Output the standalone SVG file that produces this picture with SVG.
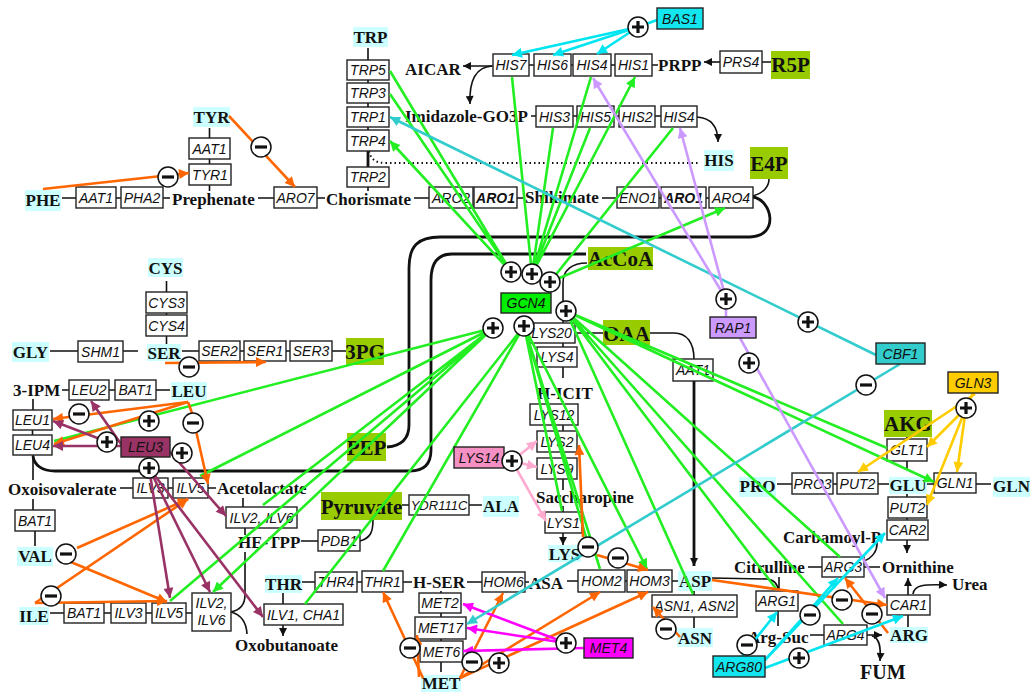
<svg xmlns="http://www.w3.org/2000/svg" width="1034" height="692" viewBox="0 0 1034 692">
<style>
.b rect{fill:#fff;stroke:#222;stroke-width:1.4}
.b text,.r text{font-family:"Liberation Sans",Arial,sans-serif;font-style:italic;font-size:14px;text-anchor:middle;fill:#111}
.r rect{stroke:#222;stroke-width:1.4}
.bold text{font-weight:bold}
.m{font-family:"Liberation Serif","Times New Roman",serif;font-weight:bold;font-size:17px;fill:#111}
.c{text-anchor:middle}
.aa{fill:#ccffff}
.pc{fill:#99cc00}
.big{font-size:21px}
.k{stroke:#111;stroke-width:1.6;fill:none}
.kt{stroke:#111;stroke-width:2.8;fill:none}
.ka{stroke:#111;stroke-width:1.6;fill:none;marker-end:url(#ak)}
.dot{stroke:#111;stroke-width:2;fill:none;stroke-dasharray:1.5 3}
.e{fill:none;stroke-width:2.6}
.eg{stroke:#22ee22;marker-end:url(#mg)}
.eo{stroke:#ff6600;marker-end:url(#mo)}
.ep{stroke:#993366;marker-end:url(#mp)}
.ek{stroke:#ffaad0;marker-end:url(#mk)}
.em{stroke:#ff00ff;marker-end:url(#mm)}
.et{stroke:#33cccc;marker-end:url(#mt)}
.el{stroke:#cc99ff;marker-end:url(#ml)}
.ec{stroke:#00e5f0;marker-end:url(#mc)}
.ey{stroke:#ffcc00;marker-end:url(#my)}
.n{marker-end:none}
.s circle{fill:#fff;stroke:#111;stroke-width:1.5}
.s path{stroke:#111;stroke-width:3.2;fill:none}
</style>
<defs>
<marker id="ak" viewBox="0 0 10 10" refX="10" refY="5" markerWidth="9" markerHeight="8" markerUnits="userSpaceOnUse" orient="auto"><path d="M0,0L10,5L0,10z" fill="#111"/></marker>
<marker id="mg" viewBox="0 0 10 10" refX="10" refY="5" markerWidth="13" markerHeight="10" markerUnits="userSpaceOnUse" orient="auto"><path d="M0,0L10,5L0,10z" fill="#22ee22"/></marker>
<marker id="mo" viewBox="0 0 10 10" refX="10" refY="5" markerWidth="13" markerHeight="10" markerUnits="userSpaceOnUse" orient="auto"><path d="M0,0L10,5L0,10z" fill="#ff6600"/></marker>
<marker id="mp" viewBox="0 0 10 10" refX="10" refY="5" markerWidth="13" markerHeight="10" markerUnits="userSpaceOnUse" orient="auto"><path d="M0,0L10,5L0,10z" fill="#993366"/></marker>
<marker id="mk" viewBox="0 0 10 10" refX="10" refY="5" markerWidth="13" markerHeight="10" markerUnits="userSpaceOnUse" orient="auto"><path d="M0,0L10,5L0,10z" fill="#ffaad0"/></marker>
<marker id="mm" viewBox="0 0 10 10" refX="10" refY="5" markerWidth="13" markerHeight="10" markerUnits="userSpaceOnUse" orient="auto"><path d="M0,0L10,5L0,10z" fill="#ff00ff"/></marker>
<marker id="mt" viewBox="0 0 10 10" refX="10" refY="5" markerWidth="13" markerHeight="10" markerUnits="userSpaceOnUse" orient="auto"><path d="M0,0L10,5L0,10z" fill="#33cccc"/></marker>
<marker id="ml" viewBox="0 0 10 10" refX="10" refY="5" markerWidth="13" markerHeight="10" markerUnits="userSpaceOnUse" orient="auto"><path d="M0,0L10,5L0,10z" fill="#cc99ff"/></marker>
<marker id="mc" viewBox="0 0 10 10" refX="10" refY="5" markerWidth="13" markerHeight="10" markerUnits="userSpaceOnUse" orient="auto"><path d="M0,0L10,5L0,10z" fill="#00e5f0"/></marker>
<marker id="my" viewBox="0 0 10 10" refX="10" refY="5" markerWidth="13" markerHeight="10" markerUnits="userSpaceOnUse" orient="auto"><path d="M0,0L10,5L0,10z" fill="#ffcc00"/></marker>
<g id="plus" class="s"><circle r="10"/><path d="M-6,0H6M0,-6V6"/></g>
<g id="minus" class="s"><circle r="10"/><path d="M-6,0H6"/></g>
</defs>

<g id="connectors-pathway">
<path class="kt" d="M753,197 C772,200 780,236 750,237 L440,237 C418,237 409,246 409,268 L409,425 C409,440 400,446 387,447"/>
<path class="k" d="M753,196 C764,193 769,186 769,179"/>
<path class="kt" d="M586,254 L452,254 C438,254 431,262 431,280 L431,450 C431,464 424,471 410,471 L55,471 C42,471 34,465 33,456"/>
<path class="dot" d="M369,151 C371,160 376,163 386,163 L700,163"/>
<path class="k" d="M209.5,159V164M209.5,185V191M116,198H121M163,198H170M317,198H325M517,198H524M659,198H661M706,198H709"/>
<path class="k" d="M368,80V83M368,103V107M368,127V130M368,187V191"/>
<path class="kt" d="M368,151V167"/>
<path class="k" d="M529,65H534M571,65H573M611,65H615M652,65H658M762,62H771M531,116H536M573,116H577M614,116H619M655,116H661"/>
<path class="k" d="M166.5,313V315M166.5,336V344M123,351H138M240,351H244M286,351H290M332,351H346"/>
<path class="k" d="M62,390H69M109,390H115M32.5,430V435M33,455V480M168,488H173M208,488H216M245,528V535M33,499V510"/>
<path class="k" d="M104,613H111M146,613H152M186,613H192M245,552L245,595Q245,609 231,612M231,612Q246,616 247,634"/>
<path class="k" d="M402,505H409M360,541C371,538 373,531 373,520M357,582H362M403,582H412M283,593V604"/>
<path class="k" d="M441,591V593M441,613V617M441,639V641M525,582H529M625,581H627M672,581H678"/>
<path class="k" d="M575,333H603M563,343V347M563,401V404M563,425V431M563,452V458M563,506V512M563,323L563,283C563,270 572,263 587,263M650,333L674,333C687,333 694,343 694,359"/>
<path class="k" d="M694,591V595M712,578L767,579C775,580 778,585 778,591M779,577V591M864,567H880M877,541C878,551 872,558 864,561M810,635H824M908,615V627"/>
<path class="k" d="M907,437V439M878,484H889M833,484H837M927,484H934M907,494V497M907,518V520"/>
<path class="ka" d="M209.5,138V128M76,198H62M274,198H258M429,198H414M617,198H602M368,60V48M493,66H463"/>
<path class="ka" d="M492,66C476,67 469,80 470,104"/>
<path class="ka" d="M720,62H704"/>
<path class="ka" d="M697,117C712,118 718,128 718,142"/>
<path class="ka" d="M166.5,292V281M78,351H50M199,351H182M156,390H170M33,410V399M133,488H120M243,507V498M318,541H301M469,505H482M35,531V546M64,613H50M315,582H302M283,625V636"/>
<path class="ka" d="M482,582H467M578,581H567M441,662V672M563,367V378M563,479V490M563,533V545"/>
<path class="ka" style="stroke-width:2.8" d="M694,381V566"/>
<path class="ka" d="M694,617V628M822,567H808M778,611V626M867,635H882"/>
<path class="ka" d="M872,636C880,638 881,648 880,661"/>
<path class="ka" d="M908,595V578"/>
<path class="ka" d="M913,594C914,585 924,584 947,585"/>
<path class="ka" d="M907,461V469M792,484H777M976,484H991M907,540V553"/>
</g>

<g id="metabolites">
<g id="TYR"><rect class="aa" x="193" y="107" width="37" height="20"/><text class="m c" x="211.5" y="123">TYR</text></g>
<g id="PHE"><rect class="aa" x="25" y="190" width="36" height="21"/><text class="m c" x="43" y="206">PHE</text></g>
<g id="TRP"><rect class="aa" x="353" y="27" width="35" height="20"/><text class="m c" x="370.5" y="43">TRP</text></g>
<g id="HIS"><rect class="aa" x="704" y="150" width="30" height="21"/><text class="m c" x="719" y="166">HIS</text></g>
<g id="CYS"><rect class="aa" x="148" y="258" width="35" height="19"/><text class="m c" x="165.5" y="274">CYS</text></g>
<g id="GLY"><rect class="aa" x="12" y="342" width="37" height="20"/><text class="m c" x="30.5" y="358">GLY</text></g>
<g id="SER"><rect class="aa" x="147" y="344" width="34" height="17"/><text class="m c" x="164" y="359">SER</text></g>
<g id="LEU"><rect class="aa" x="171" y="382" width="36" height="18"/><text class="m c" x="189" y="397">LEU</text></g>
<g id="ALA"><rect class="aa" x="483" y="496" width="36" height="21"/><text class="m c" x="501" y="512">ALA</text></g>
<g id="VAL"><rect class="aa" x="17" y="547" width="36" height="19"/><text class="m c" x="35" y="562">VAL</text></g>
<g id="THR"><rect class="aa" x="265" y="575" width="37" height="18"/><text class="m c" x="283.5" y="590">THR</text></g>
<g id="ILE"><rect class="aa" x="19" y="607" width="30" height="18"/><text class="m c" x="34" y="622">ILE</text></g>
<g id="LYS"><rect class="aa" x="548" y="545" width="33" height="17"/><text class="m c" x="564.5" y="560">LYS</text></g>
<g id="MET"><rect class="aa" x="421" y="675" width="40" height="17"/><text class="m c" x="441" y="689">MET</text></g>
<g id="ASP"><rect class="aa" x="678" y="571" width="34" height="20"/><text class="m c" x="695" y="587">ASP</text></g>
<g id="ASN"><rect class="aa" x="677" y="628" width="36" height="19"/><text class="m c" x="695" y="644">ASN</text></g>
<g id="PRO"><rect class="aa" x="739" y="477" width="37" height="20"/><text class="m c" x="757.5" y="492">PRO</text></g>
<g id="GLU"><rect class="aa" x="889" y="477" width="38" height="17"/><text class="m c" x="908" y="491">GLU</text></g>
<g id="GLN"><rect class="aa" x="993" y="477" width="37" height="20"/><text class="m c" x="1011.5" y="492">GLN</text></g>
<g id="ARG"><rect class="aa" x="890" y="627" width="38" height="16"/><text class="m c" x="909" y="641">ARG</text></g>
<g id="R5P"><rect class="pc" x="771" y="51" width="39" height="28"/><text class="m c big" x="790.5" y="72">R5P</text></g>
<g id="E4P"><rect class="pc" x="750" y="147" width="38" height="32"/><text class="m c big" x="769" y="171">E4P</text></g>
<g id="P3PG"><rect class="pc" x="346" y="338" width="38" height="27"/><text class="m c big" x="365" y="359">3PG</text></g>
<g id="AcCoA"><rect class="pc" x="588" y="247" width="65" height="23"/><text class="m c big" x="620.5" y="266">AcCoA</text></g>
<g id="OAA"><rect class="pc" x="603" y="320" width="47" height="25"/><text class="m c big" x="626.5" y="341">OAA</text></g>
<g id="AKG"><rect class="pc" x="884" y="410" width="48" height="27"/><text class="m c big" x="908" y="431">AKG</text></g>
<g id="PEP"><rect class="pc" x="347" y="433" width="39" height="28"/><text class="m c big" x="366.5" y="455">PEP</text></g>
<g id="Pyruvate"><rect class="pc" x="321" y="492" width="81" height="28"/><text class="m c big" x="361.5" y="514">Pyruvate</text></g>
<text id="Prephenate" class="m" x="172" y="205">Prephenate</text>
<text id="Chorismate" class="m" x="326" y="205">Chorismate</text>
<text id="Shikimate" class="m" x="525" y="203">Shikimate</text>
<text id="AICAR" class="m" x="405" y="75">AICAR</text>
<text id="ImidazoleGO3P" class="m" x="405" y="122">Imidazole-GO3P</text>
<text id="PRPP" class="m" x="658" y="71">PRPP</text>
<text id="IPM" class="m" x="13" y="396">3-IPM</text>
<text id="HICIT" class="m" x="537" y="399">H-ICIT</text>
<text id="Oxoisovalerate" class="m" x="8" y="495">Oxoisovalerate</text>
<text id="Acetolactate" class="m" x="217" y="494">Acetolactate</text>
<text id="Saccharopine" class="m" x="536" y="503">Saccharopine</text>
<text id="HETPP" class="m" x="238" y="548">HE-TPP</text>
<text id="Oxobutanoate" class="m" x="235" y="651">Oxobutanoate</text>
<text id="HSER" class="m" x="413" y="588">H-SER</text>
<text id="ASA" class="m" x="529" y="589">ASA</text>
<text id="CarbamoylP" class="m" x="783" y="543">Carbamoyl-P</text>
<text id="Citrulline" class="m" x="734" y="573">Citrulline</text>
<text id="Ornithine" class="m" x="882" y="573">Ornithine</text>
<text id="Urea" class="m" x="952" y="590">Urea</text>
<text id="ArgSuc" class="m" x="748" y="643">Arg-Suc</text>
<text id="FUM" class="m" x="860" y="679" style="font-size:20px">FUM</text>
</g>

<g id="genes">
<g id="g-AAT1a" class="b"><rect x="189" y="138" width="41" height="21"/><text x="209.5" y="153.5">AAT1</text></g>
<g id="g-TYR1" class="b"><rect x="189" y="164" width="42" height="21"/><text x="210" y="179.5">TYR1</text></g>
<g id="g-AAT1b" class="b"><rect x="76" y="187" width="40" height="21"/><text x="96" y="202.5">AAT1</text></g>
<g id="g-PHA2" class="b"><rect x="121" y="187" width="42" height="21"/><text x="142" y="202.5">PHA2</text></g>
<g id="g-ARO7" class="b"><rect x="274" y="187" width="43" height="21"/><text x="295.5" y="202.5">ARO7</text></g>
<g id="g-TRP5" class="b"><rect x="347" y="60" width="42" height="20"/><text x="368" y="75">TRP5</text></g>
<g id="g-TRP3" class="b"><rect x="347" y="83" width="42" height="20"/><text x="368" y="98">TRP3</text></g>
<g id="g-TRP1" class="b"><rect x="347" y="107" width="42" height="20"/><text x="368" y="122">TRP1</text></g>
<g id="g-TRP4" class="b"><rect x="347" y="130" width="42" height="21"/><text x="368" y="145.5">TRP4</text></g>
<g id="g-TRP2" class="b"><rect x="347" y="167" width="42" height="20"/><text x="368" y="182">TRP2</text></g>
<g id="g-ARO2" class="b"><rect x="429" y="187" width="44" height="21"/><text x="451" y="202.5">ARO2</text></g>
<g id="g-ARO1a" class="b bold"><rect x="474" y="187" width="43" height="21"/><text x="495.5" y="202.5">ARO1</text></g>
<g id="g-ENO1" class="b"><rect x="617" y="187" width="42" height="21"/><text x="638" y="202.5">ENO1</text></g>
<g id="g-ARO1b" class="b bold"><rect x="661" y="187" width="45" height="21"/><text x="683.5" y="202.5">ARO1</text></g>
<g id="g-ARO4" class="b"><rect x="709" y="187" width="44" height="21"/><text x="731" y="202.5">ARO4</text></g>
<g id="g-HIS7" class="b"><rect x="493" y="54" width="36" height="22"/><text x="511" y="70">HIS7</text></g>
<g id="g-HIS6" class="b"><rect x="534" y="54" width="37" height="22"/><text x="552.5" y="70">HIS6</text></g>
<g id="g-HIS4a" class="b"><rect x="573" y="54" width="38" height="22"/><text x="592" y="70">HIS4</text></g>
<g id="g-HIS1" class="b"><rect x="615" y="54" width="37" height="22"/><text x="633.5" y="70">HIS1</text></g>
<g id="g-PRS4" class="b"><rect x="720" y="51" width="42" height="22"/><text x="741" y="67">PRS4</text></g>
<g id="g-HIS3" class="b"><rect x="536" y="106" width="37" height="21"/><text x="554.5" y="121.5">HIS3</text></g>
<g id="g-HIS5" class="b"><rect x="577" y="106" width="37" height="21"/><text x="595.5" y="121.5">HIS5</text></g>
<g id="g-HIS2" class="b"><rect x="619" y="106" width="36" height="21"/><text x="637" y="121.5">HIS2</text></g>
<g id="g-HIS4b" class="b"><rect x="661" y="106" width="36" height="21"/><text x="679" y="121.5">HIS4</text></g>
<g id="g-CYS3" class="b"><rect x="146" y="292" width="41" height="21"/><text x="166.5" y="307.5">CYS3</text></g>
<g id="g-CYS4" class="b"><rect x="146" y="315" width="41" height="21"/><text x="166.5" y="330.5">CYS4</text></g>
<g id="g-SHM1" class="b"><rect x="78" y="341" width="45" height="21"/><text x="100.5" y="356.5">SHM1</text></g>
<g id="g-SER2" class="b"><rect x="199" y="341" width="41" height="20"/><text x="219.5" y="356">SER2</text></g>
<g id="g-SER1" class="b"><rect x="244" y="341" width="42" height="20"/><text x="265" y="356">SER1</text></g>
<g id="g-SER3" class="b"><rect x="290" y="341" width="42" height="20"/><text x="311" y="356">SER3</text></g>
<g id="g-LEU2" class="b"><rect x="69" y="380" width="40" height="20"/><text x="89" y="395">LEU2</text></g>
<g id="g-BAT1c" class="b"><rect x="115" y="380" width="41" height="20"/><text x="135.5" y="395">BAT1</text></g>
<g id="g-LEU1" class="b"><rect x="13" y="410" width="39" height="20"/><text x="32.5" y="425">LEU1</text></g>
<g id="g-LEU4" class="b"><rect x="13" y="435" width="39" height="20"/><text x="32.5" y="450">LEU4</text></g>
<g id="g-ILV3a" class="b"><rect x="133" y="478" width="35" height="20"/><text x="150.5" y="493">ILV3</text></g>
<g id="g-ILV5a" class="b"><rect x="173" y="478" width="35" height="20"/><text x="190.5" y="493">ILV5</text></g>
<g id="g-ILV26a" class="b"><rect x="226" y="507" width="71" height="21"/><text x="261.5" y="522.5">ILV2, ILV6</text></g>
<g id="g-BAT1a" class="b"><rect x="15" y="510" width="40" height="21"/><text x="35" y="525.5">BAT1</text></g>
<g id="g-BAT1b" class="b"><rect x="64" y="603" width="40" height="20"/><text x="84" y="618">BAT1</text></g>
<g id="g-ILV3b" class="b"><rect x="111" y="603" width="35" height="20"/><text x="128.5" y="618">ILV3</text></g>
<g id="g-ILV5b" class="b"><rect x="152" y="603" width="34" height="20"/><text x="169" y="618">ILV5</text></g>
<g id="g-ILV26b" class="b"><rect x="192" y="593" width="39" height="38"/><text x="211.5" y="608">ILV2,</text><text x="211.5" y="625">ILV6</text></g>
<g id="g-ILV1" class="b"><rect x="264" y="604" width="79" height="21"/><text x="303.5" y="619.5">ILV1, CHA1</text></g>
<g id="g-PDB1" class="b"><rect x="318" y="530" width="42" height="21"/><text x="339" y="545.5">PDB1</text></g>
<g id="g-YDR111C" class="b"><rect x="409" y="495" width="60" height="20"/><text x="439" y="510" style="font-size:13px">YDR111C</text></g>
<g id="g-THR4" class="b"><rect x="315" y="572" width="42" height="20"/><text x="336" y="587">THR4</text></g>
<g id="g-THR1" class="b"><rect x="362" y="571" width="41" height="21"/><text x="382.5" y="586.5">THR1</text></g>
<g id="g-LYS20" class="b"><rect x="528" y="323" width="47" height="20"/><text x="551.5" y="338">LYS20</text></g>
<g id="g-LYS4" class="b"><rect x="537" y="347" width="40" height="20"/><text x="557" y="362">LYS4</text></g>
<g id="g-LYS12" class="b"><rect x="530" y="404" width="48" height="21"/><text x="554" y="419.5">LYS12</text></g>
<g id="g-LYS2" class="b"><rect x="537" y="431" width="40" height="21"/><text x="557" y="446.5">LYS2</text></g>
<g id="g-LYS9" class="b"><rect x="537" y="458" width="40" height="21"/><text x="557" y="473.5">LYS9</text></g>
<g id="g-LYS1" class="b"><rect x="545" y="512" width="37" height="21"/><text x="563.5" y="527.5">LYS1</text></g>
<g id="g-HOM6" class="b"><rect x="482" y="572" width="43" height="20"/><text x="503.5" y="587">HOM6</text></g>
<g id="g-HOM2" class="b"><rect x="578" y="570" width="47" height="22"/><text x="601.5" y="586">HOM2</text></g>
<g id="g-HOM3" class="b"><rect x="627" y="570" width="45" height="22"/><text x="649.5" y="586">HOM3</text></g>
<g id="g-MET2" class="b"><rect x="419" y="593" width="42" height="20"/><text x="440" y="608">MET2</text></g>
<g id="g-MET17" class="b"><rect x="415" y="617" width="51" height="22"/><text x="440.5" y="633">MET17</text></g>
<g id="g-MET6" class="b"><rect x="420" y="641" width="43" height="21"/><text x="441.5" y="656.5">MET6</text></g>
<g id="g-AAT1c" class="b"><rect x="673" y="359" width="40" height="22"/><text x="693" y="375">AAT1</text></g>
<g id="g-ASN12" class="b"><rect x="652" y="595" width="85" height="22"/><text x="694.5" y="611">ASN1, ASN2</text></g>
<g id="g-ARG3" class="b"><rect x="822" y="557" width="42" height="20"/><text x="843" y="572">ARG3</text></g>
<g id="g-ARG1" class="b"><rect x="756" y="591" width="42" height="20"/><text x="777" y="606">ARG1</text></g>
<g id="g-ARG4" class="b"><rect x="824" y="625" width="43" height="20"/><text x="845.5" y="640">ARG4</text></g>
<g id="g-CAR1" class="b"><rect x="887" y="595" width="43" height="20"/><text x="908.5" y="610">CAR1</text></g>
<g id="g-GLT1" class="b"><rect x="887" y="439" width="40" height="22"/><text x="907" y="455">GLT1</text></g>
<g id="g-PUT2a" class="b"><rect x="837" y="473" width="41" height="21"/><text x="857.5" y="488.5">PUT2</text></g>
<g id="g-PRO3" class="b"><rect x="792" y="473" width="41" height="21"/><text x="812.5" y="488.5">PRO3</text></g>
<g id="g-GLN1" class="b"><rect x="934" y="473" width="42" height="20"/><text x="955" y="488">GLN1</text></g>
<g id="g-PUT2b" class="b"><rect x="888" y="497" width="39" height="21"/><text x="907.5" y="512.5">PUT2</text></g>
<g id="g-CAR2" class="b"><rect x="887" y="520" width="41" height="20"/><text x="907.5" y="535">CAR2</text></g>
</g>

<g id="connectors-regulation">
<g class="e eg">
<path d="M511,272L390,71M511,272L390,94M511,272L390,141"/>
<path d="M532,274L512,77M532,274L553,128M532,274L590,128M532,274L591,77M532,274L635,77"/>
<path d="M550,282L673,128M550,282L725,208"/>
<path d="M493,328L54,441M493,328L200,476M493,328L263,505M493,328L170,601M493,328L213,592"/>
<path d="M524,326L305,604M524,326L383,571M524,326L562,511M524,326L586,537M524,326L600,569M524,326L647,569"/>
<path d="M566,311L693,594M566,311L777,590M566,311L843,624M566,311L840,557M566,311L887,448M566,311L934,482"/>
</g>
<g class="e eo">
<path d="M229,116L295,187"/>
<path d="M43,189L189,173"/>
<path d="M165,363L266,362"/>
<path d="M188,402L53,419"/>
<path d="M188,402L54,444"/>
<path d="M188,402L192,413L208,484"/>
<path d="M77,548L188,499"/>
<path d="M66,560L167,602"/>
<path d="M35,603L188,499"/>
<path d="M35,603L167,601"/>
<path d="M423,678L383,592"/>
<path d="M419,677L417,635"/>
<path d="M460,678L503,593"/>
<path d="M460,678L600,592"/>
<path d="M460,678L648,592"/>
<path d="M583,537L579,445"/>
<path d="M597,555L648,570"/>
<path d="M680,637L653,607"/>
<path d="M712,580L887,605"/>
<path d="M888,633L845,578"/>
</g>
<g class="e ep">
<path d="M121,446L53,446"/>
<path d="M100,439L53,421"/>
<path d="M121,444L91,401"/>
<path d="M170,452L226,516"/>
<path class="n" d="M149,457V468"/>
<path d="M149,468L170,598"/>
<path d="M149,468L210,592"/>
<path d="M149,468L263,617"/>
</g>
<g class="e ek">
<path d="M512,461L537,441"/>
<path d="M512,461L537,467"/>
<path d="M512,461L546,521"/>
</g>
<g class="e em">
<path d="M566,643L463,604"/>
<path d="M566,643L467,628"/>
<path d="M584,648L463,651"/>
</g>
<g class="e et">
<path d="M876,355L390,117"/>
<path d="M900,364L467,624"/>
</g>
<g class="e el">
<path d="M726,299L593,78"/>
<path d="M726,299L680,128"/>
<path class="n" d="M726,317V299"/>
<path d="M740,338L885,598"/>
</g>
<g class="e ec">
<path class="n" d="M657,20L638,27"/>
<path d="M638,27L512,55"/>
<path d="M638,27L553,55"/>
<path d="M638,27L597,54"/>
<path d="M742,656L777,612"/>
<path d="M765,660L838,578"/>
<path d="M765,660L885,533"/>
<path d="M765,668L903,616"/>
</g>
<g class="e ey">
<path class="n" d="M973,393L966,408"/>
<path d="M966,408L927,447"/>
<path d="M975,394L858,472"/>
<path d="M966,408L957,472"/>
<path d="M966,408L927,505"/>
</g>
</g>

<g id="regulators">
<g id="r-BAS1" class="r"><rect x="657" y="8" width="46" height="21" fill="#14e6f0"/><text x="680" y="23.5">BAS1</text></g>
<g id="r-GCN4" class="r"><rect x="501" y="293" width="50" height="20" fill="#00ee00"/><text x="526" y="308">GCN4</text></g>
<g id="r-RAP1" class="r"><rect x="710" y="317" width="46" height="21" fill="#cc99ff"/><text x="733" y="332.5">RAP1</text></g>
<g id="r-CBF1" class="r"><rect x="876" y="343" width="49" height="21" fill="#33cccc"/><text x="900.5" y="358.5">CBF1</text></g>
<g id="r-GLN3" class="r"><rect x="948" y="372" width="50" height="21" fill="#ffcc00"/><text x="973" y="387.5">GLN3</text></g>
<g id="r-LEU3" class="r"><rect x="121" y="437" width="49" height="20" fill="#993366"/><text x="145.5" y="452">LEU3</text></g>
<g id="r-LYS14" class="r"><rect x="454" y="447" width="50" height="21" fill="#f590c4"/><text x="479" y="462.5">LYS14</text></g>
<g id="r-MET4" class="r"><rect x="584" y="638" width="49" height="20" fill="#ff00ff"/><text x="608.5" y="653">MET4</text></g>
<g id="r-ARG80" class="r"><rect x="713" y="656" width="52" height="21" fill="#14e6f0"/><text x="739" y="671.5">ARG80</text></g>
</g>

<g id="signs">
<use href="#plus" x="638" y="27"/>
<use href="#plus" x="511" y="272"/>
<use href="#plus" x="532" y="274"/>
<use href="#plus" x="550" y="282"/>
<use href="#plus" x="566" y="311"/>
<use href="#plus" x="493" y="328"/>
<use href="#plus" x="524" y="326"/>
<use href="#plus" x="726" y="299"/>
<use href="#plus" x="749" y="363"/>
<use href="#plus" x="808" y="322"/>
<use href="#plus" x="966" y="408"/>
<use href="#plus" x="107" y="442"/>
<use href="#plus" x="149" y="421"/>
<use href="#plus" x="182" y="453"/>
<use href="#plus" x="149" y="468"/>
<use href="#plus" x="512" y="461"/>
<use href="#plus" x="566" y="643"/>
<use href="#plus" x="499" y="663"/>
<use href="#plus" x="799" y="658"/>
<use href="#minus" x="261" y="147"/>
<use href="#minus" x="168" y="177"/>
<use href="#minus" x="189" y="367"/>
<use href="#minus" x="79" y="414"/>
<use href="#minus" x="193" y="423"/>
<use href="#minus" x="66" y="554"/>
<use href="#minus" x="51" y="596"/>
<use href="#minus" x="410" y="648"/>
<use href="#minus" x="472" y="662"/>
<use href="#minus" x="588" y="547"/>
<use href="#minus" x="618" y="558"/>
<use href="#minus" x="666" y="629"/>
<use href="#minus" x="842" y="600"/>
<use href="#minus" x="872" y="614"/>
<use href="#minus" x="810" y="615"/>
<use href="#minus" x="747" y="645"/>
<use href="#minus" x="866" y="385"/>
</g>
</svg>
